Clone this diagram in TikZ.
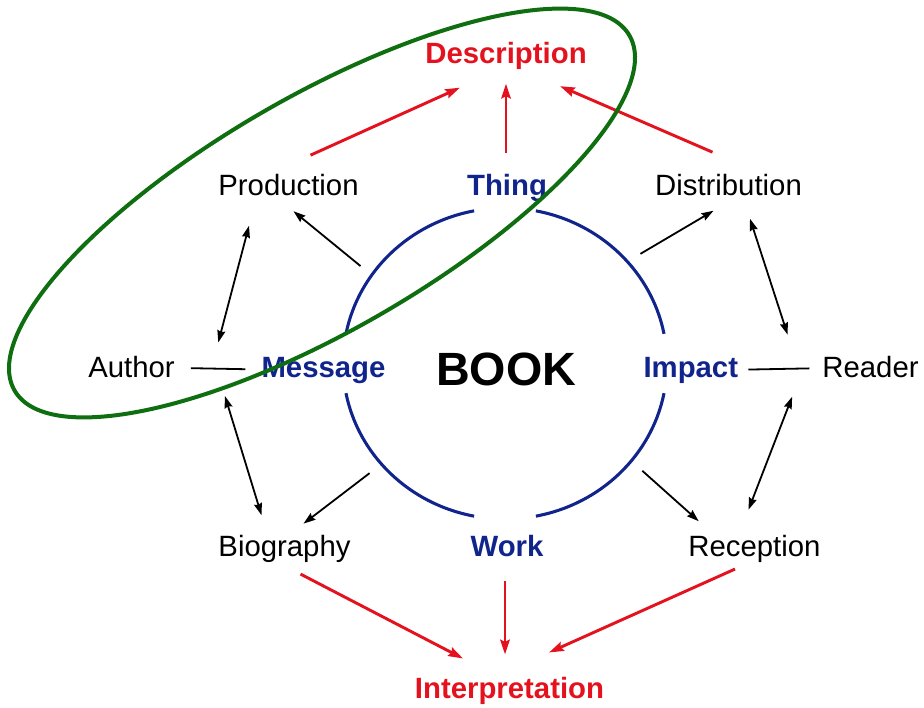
\documentclass[tikz,border=0pt]{standalone}
\usepackage{fontspec}
\setmainfont{Liberation Sans}
\usepackage{xcolor}
\usepackage{tikz}
\usetikzlibrary{arrows.meta}
\definecolor{navy}{RGB}{16,36,140}
\definecolor{hotred}{RGB}{228,18,30}
\definecolor{leaf}{RGB}{14,110,16}

\begin{document}
\begin{tikzpicture}[x=0.75pt,y=-0.75pt,
    every node/.style={inner sep=0pt,anchor=base,font=\fontsize{22}{26}\selectfont},
    role/.style={text=navy,font=\fontsize{22}{26}\selectfont\bfseries},
    goal/.style={text=hotred,font=\fontsize{22}{26}\selectfont\bfseries},
    thin link/.style={line width=1.35pt},
    oneway/.style={thin link,-{Stealth[length=9pt,width=6pt,inset=1pt]}},
    twoway/.style={thin link,{Stealth[length=9pt,width=6pt,inset=1pt]}-{Stealth[length=9pt,width=6pt,inset=1pt]}},
    feed/.style={line width=2.2pt,hotred,-{Stealth[length=11pt,width=7pt,inset=1.5pt]}}]
    \useasboundingbox (0,0) rectangle (924,707);
    \node(desc)[goal] at (506,63.3) {Description};
    \node(prod) at (288.5,195.7) {Production};
    \node(thing)[role] at (507,195.7) {Thing};
    \node(dist) at (728.5,195.7) {Distribution};
    \node(author) at (131.5,377.5) {Author};
    \node(msg)[role] at (323.5,377.7) {Message};
    \node(book)[font=\fontsize{35}{40}\selectfont\bfseries] at (506,385) {BOOK};
    \node(impact)[role] at (690.8,377.7) {Impact};
    \node(reader) at (870.5,377.7) {Reader};
    \node(bio) at (284.5,556.7) {Biography};
    \node(work)[role] at (507,556.7) {Work};
    \node(recep) at (754.5,556.7) {Reception};
    \node(interp)[goal] at (509.5,698) {Interpretation};
    \node(ring)[circle,minimum size=261pt,anchor=center] at (505,363.5) {};
    % the broken ring round the book
    \foreach \a in {11,101,191,281}
        \draw[navy,line width=2.3pt] (ring.center) ++(\a:162 and 155.5)
            arc[start angle=\a,delta angle=68,x radius=162,y radius=155.5];
    % red arrows
    \draw[feed] ([shift={(22,-19)}]prod.north) -- ([shift={(-46,18)}]desc.south);
    \draw[feed] ([shift={(-1,-21)}]thing.north) -- ([shift={(0,14)}]desc.south);
    \draw[feed] ([shift={(-16,-22)}]dist.north) -- ([shift={(54,16.5)}]desc.south);
    \draw[feed] ([shift={(16,11)}]bio.south) -- ([shift={(-46.5,-18)}]interp.north);
    \draw[feed] ([shift={(-2,24)}]work.south) -- ([shift={(-4.5,-22)}]interp.north);
    \draw[feed] ([shift={(-19.5,6)}]recep.south) -- ([shift={(39.5,-24)}]interp.north);
    % black arrows
    \draw[oneway] (ring.146) -- ([shift={(5,15)}]prod.south);
    \draw[oneway] (ring.39) -- ([shift={(-15,14.5)}]dist.south);
    \draw[oneway] (ring.219) -- ([shift={(19,-11.5)}]bio.north);
    \draw[oneway] (ring.322) -- ([shift={(10.5,-14)}]recep.north west);
    \draw[twoway] ([shift={(-39.5,29.5)}]prod.south) -- ([shift={(43.3,-13.6)}]author.north east);
    \draw[twoway] ([shift={(50,18)}]author.south east) -- ([shift={(-23,-20)}]bio.north);
    \draw[twoway] ([shift={(21.5,22.5)}]dist.south) -- ([shift={(-34.5,-21.5)}]reader.north west);
    \draw[twoway] ([shift={(-30,18.5)}]reader.south west) -- ([shift={(-6,-25.5)}]recep.north);
    \draw[thin link,shorten <=12pt,shorten >=12pt] (author) -- (msg);
    \draw[thin link,shorten <=7.5pt,shorten >=9.5pt] (impact) -- (reader);
    % the green loop
    \draw[leaf,line width=3pt,rotate around={30:(322,213)}] (322,213) ellipse[x radius=355,y radius=117];
\end{tikzpicture}
\end{document}
